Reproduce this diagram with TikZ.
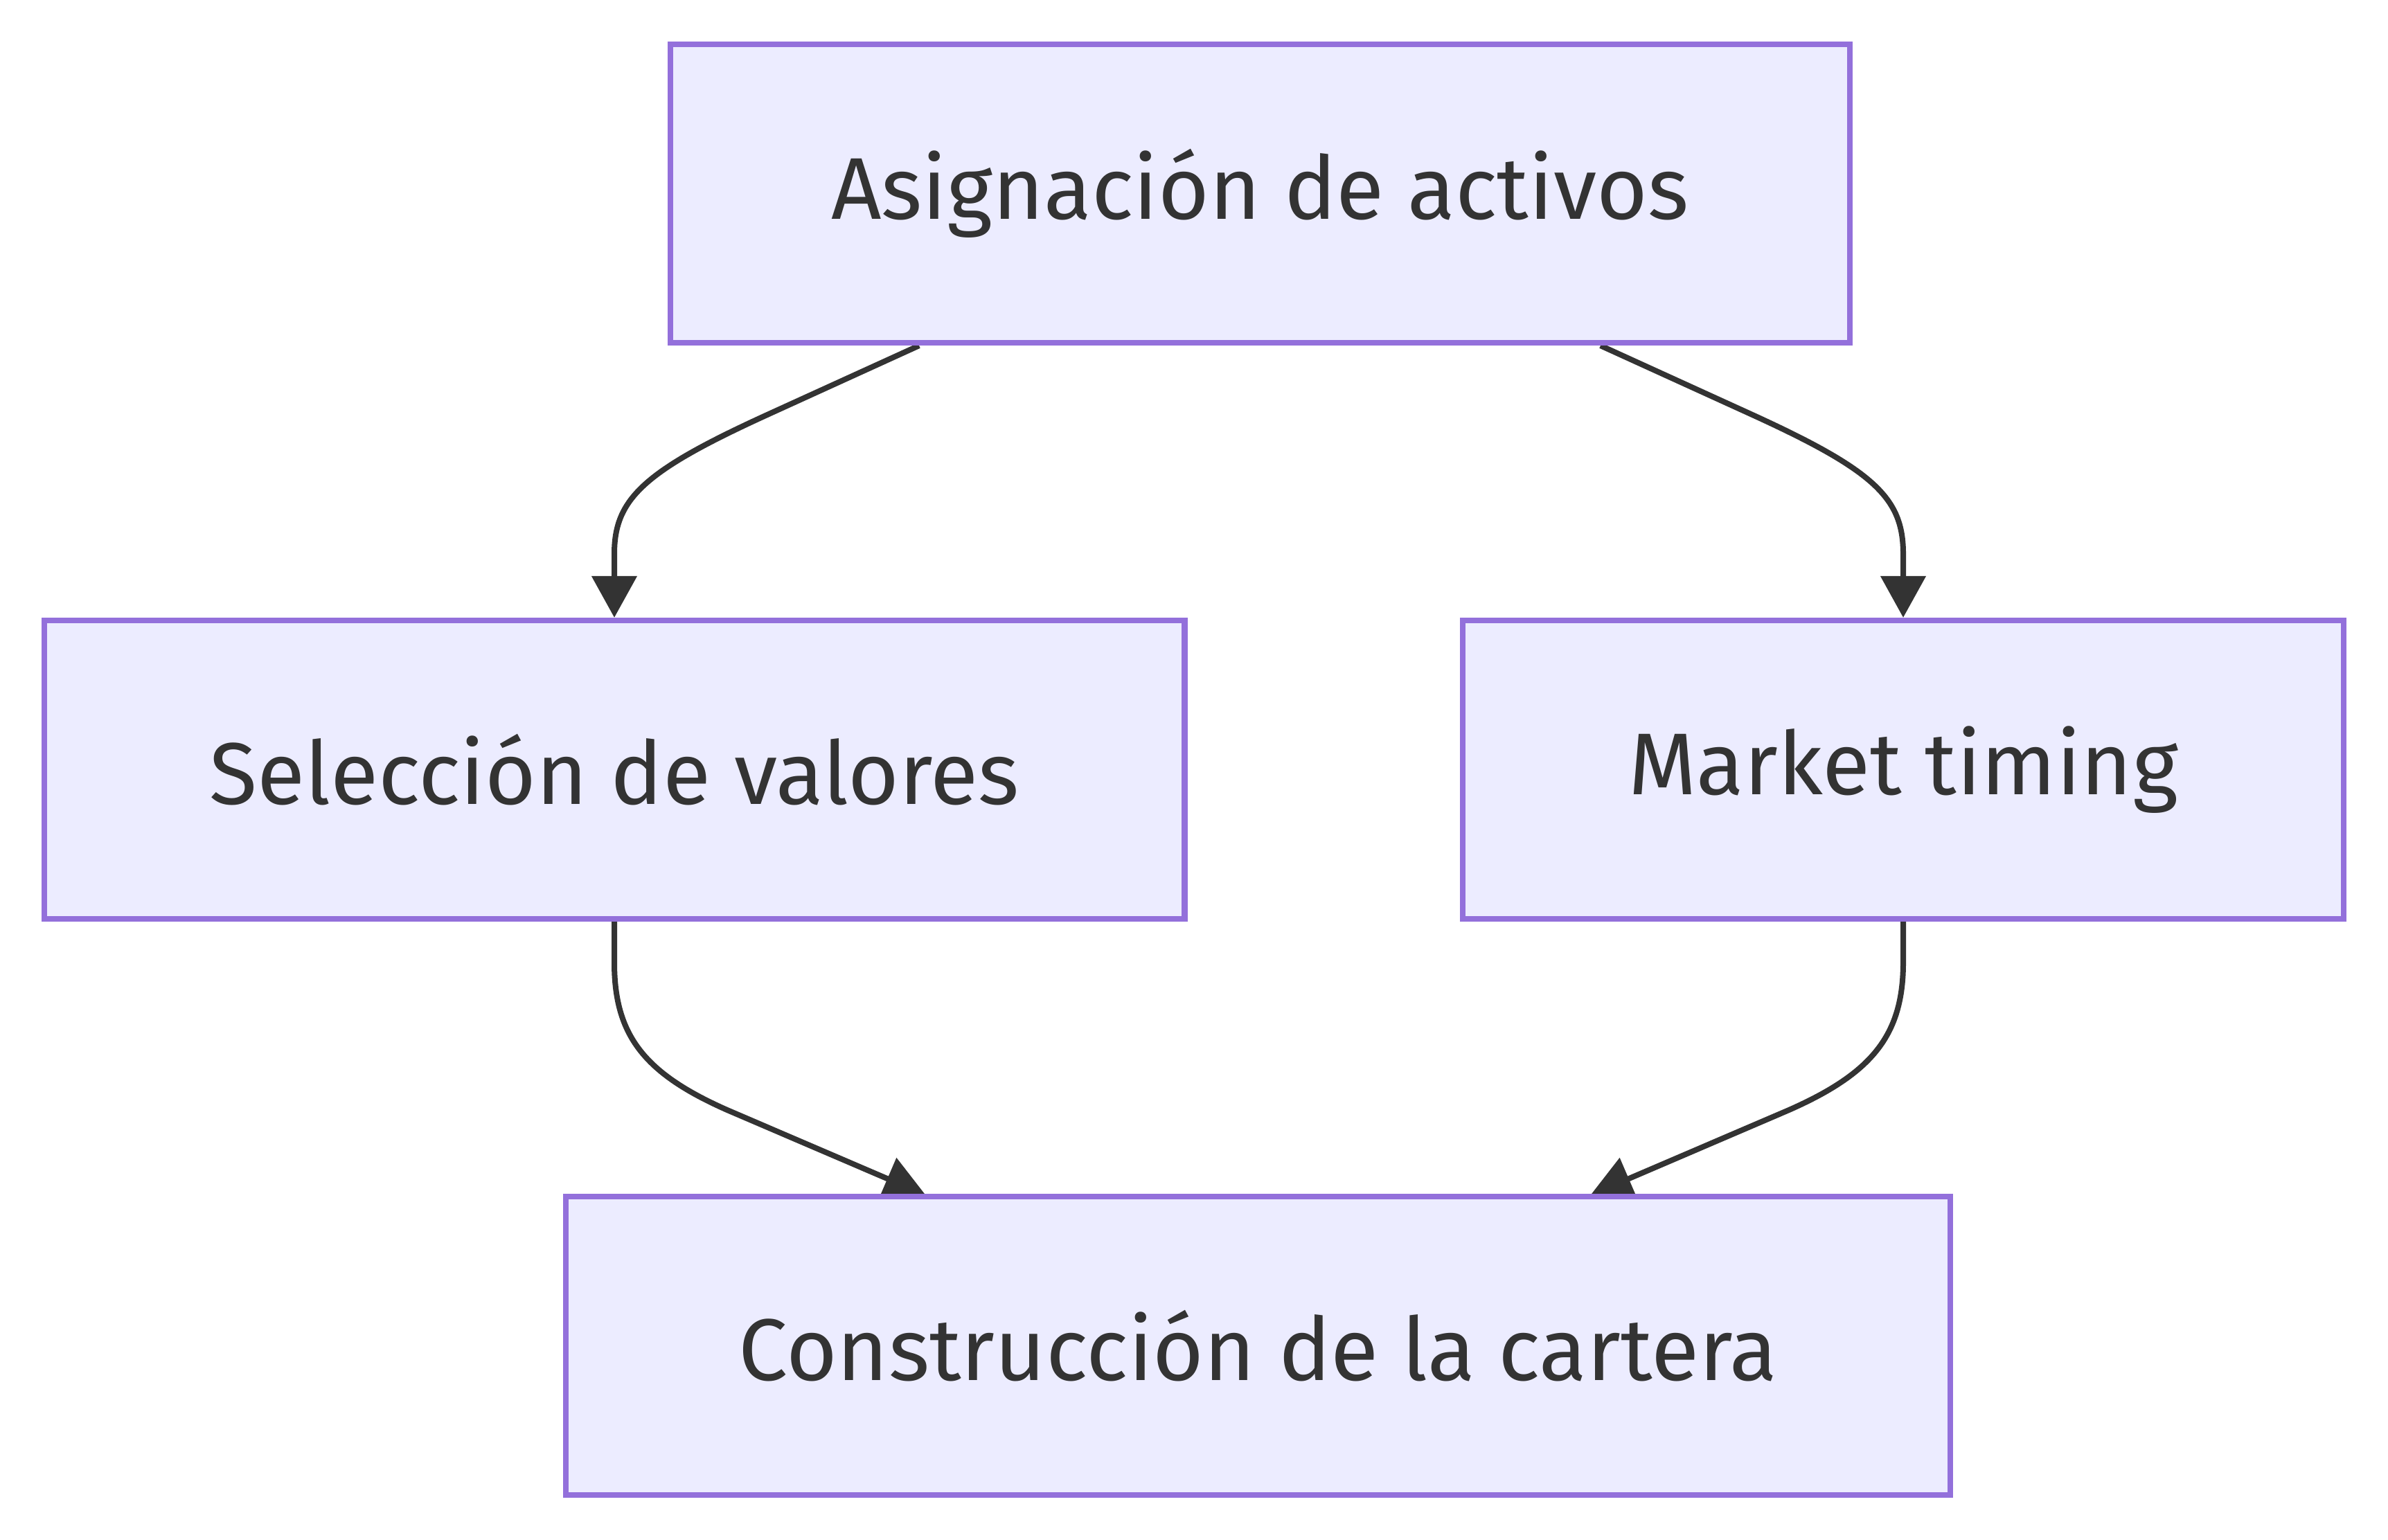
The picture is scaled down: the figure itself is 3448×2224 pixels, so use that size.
\documentclass[tikz,border=0pt]{standalone}
\usepackage{fontspec}
\setmainfont{Fira Sans}
\usetikzlibrary{arrows.meta,calc,backgrounds}
\definecolor{boxfill}{HTML}{ECECFF}
\definecolor{boxline}{HTML}{9370DB}
\definecolor{ink}{HTML}{333333}
\begin{document}
\begin{tikzpicture}[x=0.01cm,y=-0.01cm,
  box/.style={draw=boxline,fill=boxfill,line width=0.08cm,inner sep=0pt,
    text=ink,font=\fontsize{36}{40}\selectfont,minimum height=4.31cm},
  link/.style={draw=ink,line width=0.08cm,-{Triangle[length=0.6cm,width=0.64cm]}}]
\useasboundingbox (0,0) rectangle (3448,2224);
\node[box,minimum width=17.02cm] (a) at (1819,279.5) {Asignación de activos};
\node[box,minimum width=16.46cm] (b) at (887,1111.5) {Selección de valores};
\node[box,minimum width=12.72cm] (c) at (2748,1111.5) {Market timing};
\node[box,minimum width=19.97cm] (d) at (1816.5,1943.5) {Construcción de la cartera};
\begin{scope}[on background layer]
\draw[link] ($(a.south)+(-492,0)$) -- (1110,598) .. controls (930,680) and (887,720) .. (887,800) -- (b.north);
\draw[link] ($(a.south)+(492,0)$) -- (2528,598) .. controls (2708,680) and (2748,720) .. (2748,800) -- (c.north);
\draw[link] (b.south) -- (887,1390) .. controls (887,1495) and (930,1550) .. (1050,1603) -- ($(d.north)+(-480,2)$);
\draw[link] (c.south) -- (2748,1390) .. controls (2748,1495) and (2703,1550) .. (2583,1603) -- ($(d.north)+(480,2)$);
\end{scope}
\end{tikzpicture}
\end{document}
